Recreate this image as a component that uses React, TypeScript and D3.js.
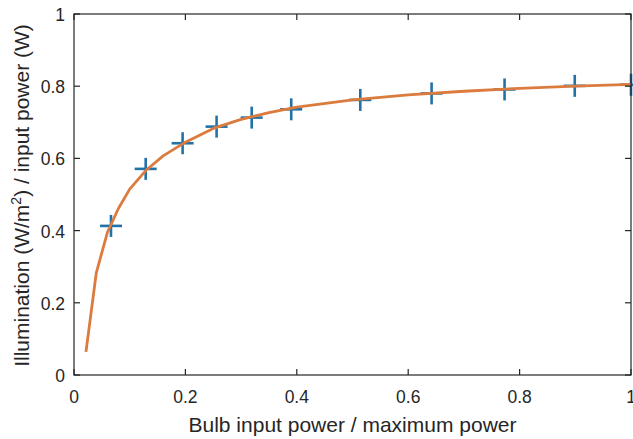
import React from "react";
import * as d3 from "d3";

const measX = [0.0664, 0.1287, 0.195, 0.256, 0.319, 0.39, 0.514, 0.642, 0.773, 0.899, 1.0];
const measY = [0.413, 0.571, 0.642, 0.688, 0.713, 0.736, 0.762, 0.78, 0.791, 0.801, 0.804];

const fitX = [0.0215, 0.04, 0.06, 0.08, 0.1, 0.13, 0.16, 0.2, 0.25, 0.3, 0.35, 0.4, 0.5, 0.6, 0.7, 0.8, 0.9, 1.0];
const fitY = [0.064, 0.283, 0.395, 0.462, 0.515, 0.568, 0.607, 0.645, 0.683, 0.708, 0.727, 0.742, 0.762, 0.776, 0.786, 0.794, 0.8, 0.805];

const xTicks = [0, 0.2, 0.4, 0.6, 0.8, 1];
const yTicks = [0, 0.2, 0.4, 0.6, 0.8, 1];

const W = 633, H = 439;
const L = 74, R = 631, T = 14, B = 375;
const ink = "#262626";
const font = "'Liberation Sans', Arial, Helvetica, sans-serif";

export default function App() {
  const x = d3.scaleLinear().domain([0, 1]).range([L, R]);
  const y = d3.scaleLinear().domain([0, 1]).range([B, T]);
  const line = d3
    .line<number>()
    .x((_, i) => x(fitX[i]))
    .y((d) => y(d));
  const arm = 11;
  return (
    <svg
      width={W}
      height={H}
      style={{ position: "absolute", left: 0, top: 0, background: "#fff" }}
      fontFamily={font}
    >
      <rect x={0} y={0} width={W} height={H} fill="#fff" />
      {measX.map((mx, i) => {
        const cx = x(mx), cy = y(measY[i]);
        return (
          <g key={i} stroke="#2272aa" strokeWidth={2.6}>
            <line x1={cx - arm} x2={cx + arm} y1={cy} y2={cy} />
            <line x1={cx} x2={cx} y1={cy - arm} y2={cy + arm} />
          </g>
        );
      })}
      <path d={line(fitY) || ""} fill="none" stroke="#dc7b3e" strokeWidth={2.8} strokeLinejoin="round" />
      <rect x={L} y={T} width={R - L} height={B - T} fill="none" stroke={ink} strokeWidth={1.2} />
      {xTicks.map((t) => (
        <g key={"x" + t}>
          <line x1={x(t)} x2={x(t)} y1={B} y2={B - 6} stroke={ink} strokeWidth={1.2} />
          <line x1={x(t)} x2={x(t)} y1={T} y2={T + 6} stroke={ink} strokeWidth={1.2} />
          <text x={x(t)} y={403} textAnchor="middle" fontSize={17.5} fill={ink}>
            {String(t)}
          </text>
        </g>
      ))}
      {yTicks.map((t) => (
        <g key={"y" + t}>
          <line x1={L} x2={L + 6} y1={y(t)} y2={y(t)} stroke={ink} strokeWidth={1.2} />
          <line x1={R} x2={R - 6} y1={y(t)} y2={y(t)} stroke={ink} strokeWidth={1.2} />
          <text x={65} y={y(t) + 7} textAnchor="end" fontSize={17.5} fill={ink}>
            {String(t)}
          </text>
        </g>
      ))}
      <text x={(L + R) / 2} y={432} textAnchor="middle" fontSize={21} fill={ink}>
        Bulb input power / maximum power
      </text>
      <text
        transform={`translate(29, ${(T + B) / 2 + 1}) rotate(-90)`}
        textAnchor="middle"
        fontSize={21}
        fill={ink}
      >
        Illumination (W/m
        <tspan fontSize={14} dy={-8}>2</tspan>
        <tspan dy={8}>) / input power (W)</tspan>
      </text>
    </svg>
  );
}
